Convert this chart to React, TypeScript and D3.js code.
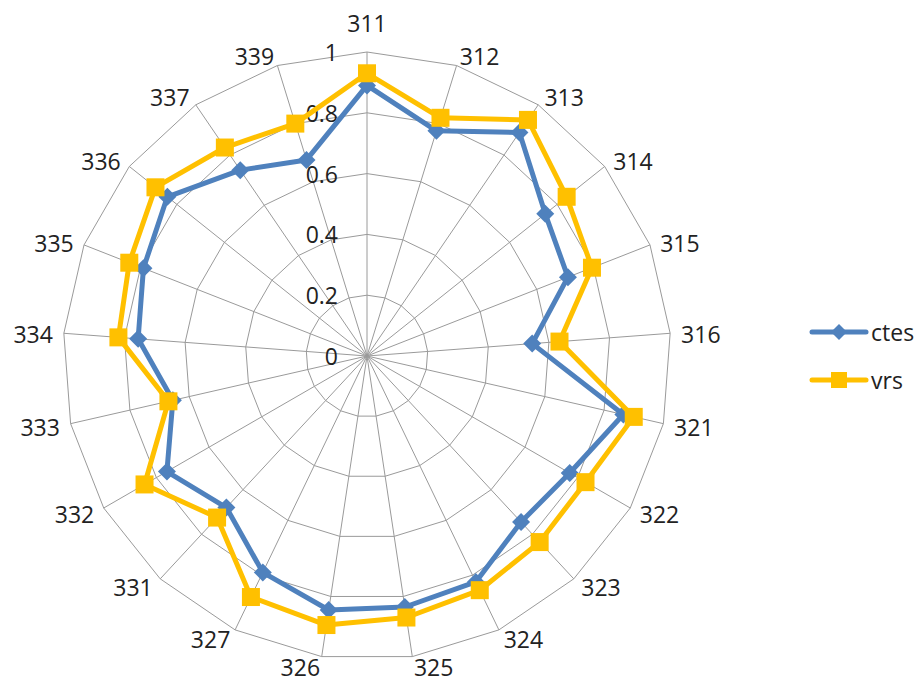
import React from "react";
import * as d3 from "d3";

const categories = ["311","312","313","314","315","316","321","322","323","324","325","326","327","331","332","333","334","335","336","337","339"];
const ctes = [0.89,0.775,0.89,0.75,0.71,0.545,0.865,0.77,0.745,0.825,0.835,0.845,0.79,0.68,0.76,0.655,0.755,0.79,0.84,0.74,0.675];
const vrs = [0.93,0.82,0.94,0.84,0.795,0.635,0.90,0.83,0.835,0.855,0.87,0.895,0.88,0.725,0.845,0.67,0.82,0.84,0.89,0.83,0.80];
const ticks = [0, 0.2, 0.4, 0.6, 0.8, 1];
const tickLabels = ["0", "0.2", "0.4", "0.6", "0.8", "1"];

const W = 917, H = 680;
const cx = 367, cy = 356, R = 304;
const BLUE = "#4F81BD";
const GOLD = "#FFC000";
const FONT = "'Open Sans', sans-serif";

export default function App() {
  const n = categories.length;
  const angle = d3.scaleLinear().domain([0, n]).range([0, 2 * Math.PI]);
  const r = d3.scaleLinear().domain([0, 1]).range([0, R]);
  const pt = (i: number, v: number): [number, number] => {
    const a = angle(i);
    return [cx + r(v) * Math.sin(a), cy - r(v) * Math.cos(a)];
  };
  const line = d3.line<[number, number]>().curve(d3.curveLinearClosed);
  const ringPath = (v: number) => line(categories.map((_, i) => pt(i, v))) || "";
  const seriesPath = (vals: number[]) => line(vals.map((v, i) => pt(i, v))) || "";

  const diamond = (x: number, y: number, s: number) =>
    `M${x},${y - s}L${x + s},${y}L${x},${y + s}L${x - s},${y}Z`;

  return (
    <svg width={W} height={H} style={{ position: "absolute", left: 0, top: 0, background: "#fff" }} fontFamily={FONT}>
      <rect x={0} y={0} width={W} height={H} fill="#fff" />
      {/* grid rings */}
      {ticks.filter((t) => t > 0).map((t) => (
        <path key={t} d={ringPath(t)} fill="none" stroke="#9a9a9a" strokeWidth={1} />
      ))}
      {/* spokes */}
      {categories.map((c, i) => {
        const [x, y] = pt(i, 1);
        return <line key={c} x1={cx} y1={cy} x2={x} y2={y} stroke="#9a9a9a" strokeWidth={1} />;
      })}
      {/* category labels */}
      {categories.map((c, i) => {
        const a = angle(i);
        const s = Math.sin(a), co = Math.cos(a);
        const [vx, vy] = pt(i, 1);
        let tx: number, ty: number, anchor: string;
        if (Math.abs(s) < 0.05) {
          anchor = "middle";
          tx = vx;
          ty = vy - 29 * Math.sign(co);
        } else {
          anchor = s > 0 ? "start" : "end";
          tx = vx + Math.sign(s) * (11 * Math.abs(s));
          ty = co >= 0 ? vy - 12 * co + 2 : vy - 8 * co + 2;
        }
        return (
          <text key={c} x={tx} y={ty} fontSize={23} textAnchor={anchor} dominantBaseline="central" fill="#222">
            {c}
          </text>
        );
      })}
      {/* tick labels */}
      {ticks.map((t, k) => (
        <text key={t} x={338} y={cy - r(t)} fontSize={23} textAnchor="end" dominantBaseline="central" fill="#222">
          {tickLabels[k]}
        </text>
      ))}
      {/* ctes series */}
      <path d={seriesPath(ctes)} fill="none" stroke={BLUE} strokeWidth={5} strokeLinejoin="round" />
      {ctes.map((v, i) => {
        const [x, y] = pt(i, v);
        return <path key={i} d={diamond(x, y, 9)} fill={BLUE} />;
      })}
      {/* vrs series */}
      <path d={seriesPath(vrs)} fill="none" stroke={GOLD} strokeWidth={5} strokeLinejoin="round" />
      {vrs.map((v, i) => {
        const [x, y] = pt(i, v);
        return <rect key={i} x={x - 9} y={y - 9} width={18} height={18} fill={GOLD} />;
      })}
      {/* legend */}
      <line x1={812} x2={866} y1={332} y2={332} stroke={BLUE} strokeWidth={5} strokeLinecap="round" />
      <path d={diamond(839, 332, 8)} fill={BLUE} />
      <text x={871} y={332} fontSize={23} dominantBaseline="central" fill="#222">ctes</text>
      <line x1={812} x2={866} y1={380} y2={380} stroke={GOLD} strokeWidth={5} strokeLinecap="round" />
      <rect x={831} y={372} width={16} height={16} fill={GOLD} />
      <text x={871} y={380} fontSize={23} dominantBaseline="central" fill="#222">vrs</text>
    </svg>
  );
}
